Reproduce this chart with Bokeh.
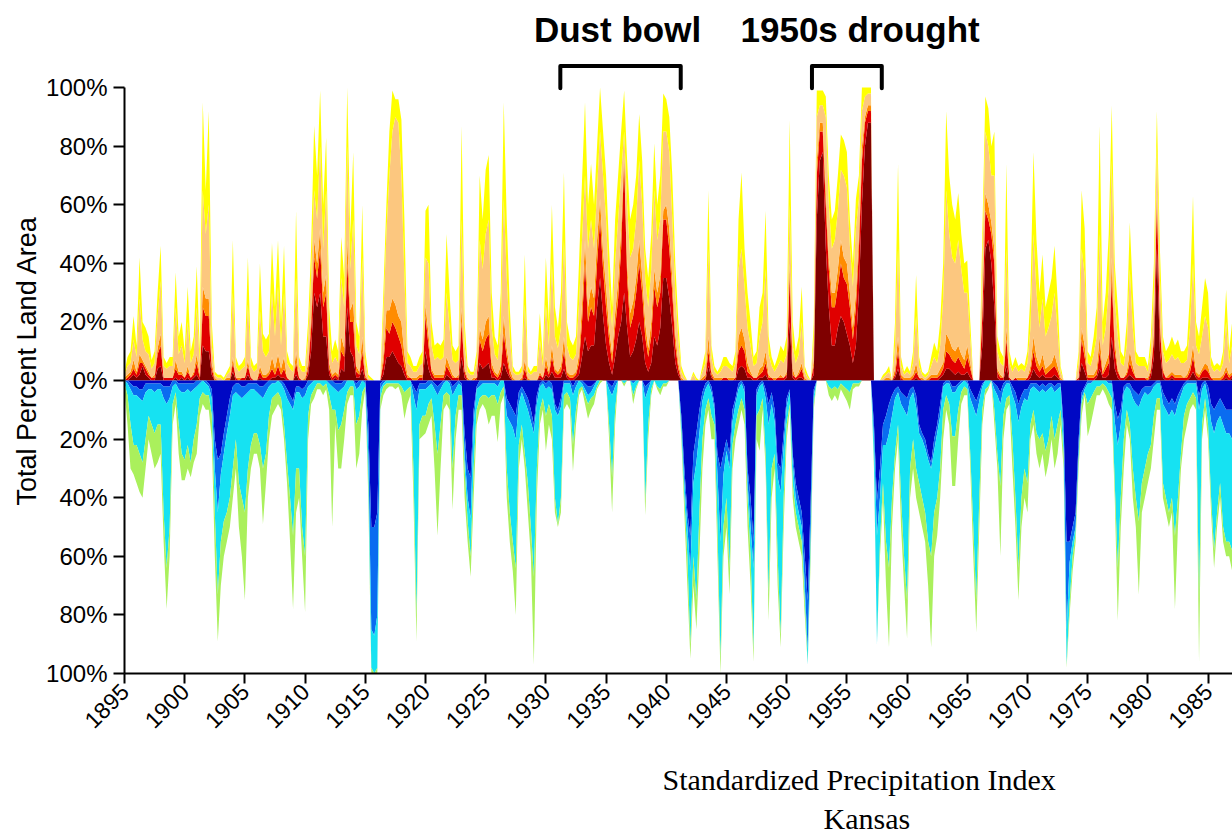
import math
import numpy as np
from bokeh.plotting import figure
from bokeh.models import FixedTicker, CustomJSTickFormatter, Title, Range1d
from bokeh.core.properties import value
from bokeh.embed import file_html
from bokeh.resources import INLINE

START_YEAR = 1895
SAMPLES_PER_YEAR = 4  # quarterly readings

# ---- Dry side: cumulative upper edges (% land area) of each class, quarterly ----
dry_total = [  # top of yellow
    3,8,10,22, 12,42,20,18, 15,7,10,30, 46,8,6,8, 8,37,15,20,
    10,32,10,15, 39,10,95,65, 92,20,3,2, 2,1,3,5, 48,8,5,6,
    8,42,8,5, 6,40,16,14, 16,47,25,48, 20,46,10,6, 5,58,8,5,
    5,20,45,87, 70,99,60,83, 25,10,14,10, 49,35,100,50, 78,20,15,60,
    10,2,1,0, 0,0,30,60, 85,99,96,96, 89,55,10,8, 5,5,8,10,
    58,60,20,12, 13,12,14,50, 30,12,10,12, 87,20,5,3, 3,10,70,55,
    72,77,30,15, 12,30,95,55, 25,5,3,3, 5,43,5,3, 5,5,23,8,
    42,20,60,25, 18,30,71,20, 14,12,15,40, 68,95,60,74, 60,80,100,85,
    70,45,25,55, 70,85,99,75, 55,60,70,91, 75,45,35,50, 81,60,70,98,
    96,90,70,40, 20,5,2,0, 0,3,1,0, 5,10,65,12, 5,3,5,8,
    8,6,5,10, 55,71,45,30, 20,8,10,25, 30,58,15,8, 5,8,12,10,
    15,89,20,10, 15,32,5,2, 0,20,99,99, 99,97,70,55, 58,70,84,82,
    78,55,40,62, 70,100,100,100, 100,0,0,0, 2,3,5,0, 20,74,8,3,
    5,3,10,36, 8,3,2,3, 8,13,10,20, 40,92,70,60, 55,64,50,40,
    41,20,0,0, 0,50,97,93, 80,85,15,10, 8,74,10,5, 8,5,6,5,
    10,30,78,48, 30,43,25,30, 35,46,28,5, 0,0,0,0, 0,10,65,52,
    10,8,15,25, 87,20,30,50, 94,40,25,10, 8,20,54,30, 10,8,8,8,
    5,15,40,92, 45,15,10,12, 15,12,14,10, 10,12,30,63, 20,15,25,35,
    30,8,5,6, 5,10,31,10, 20,10,
]
dry_peach = [  # top of light orange
    2,5,6,14, 8,28,14,10, 9,4,6,22, 34,5,4,5, 5,25,9,12,
    6,20,6,9, 25,6,65,50, 60,12,2,1, 1,0,2,3, 30,5,3,4,
    5,26,5,3, 4,24,10,8, 10,30,15,32, 12,30,6,4, 3,35,5,3,
    3,14,35,65, 55,80,45,65, 15,6,8,6, 35,25,80,38, 55,12,9,42,
    6,1,0,0, 0,0,22,50, 70,85,90,88, 70,35,6,5, 3,3,5,6,
    42,40,12,7, 8,7,8,30, 18,7,6,7, 55,12,3,2, 2,6,48,38,
    50,55,18,9, 7,18,62,35, 15,3,2,2, 3,26,3,2, 3,3,14,5,
    26,12,40,15, 11,18,48,12, 8,7,9,26, 48,70,45,55, 45,65,85,70,
    55,32,18,40, 55,70,85,60, 42,45,55,75, 60,35,25,38, 65,48,55,85,
    85,78,55,30, 14,3,1,0, 0,2,0,0, 3,6,45,8, 3,2,3,5,
    5,4,3,6, 38,45,32,18, 12,5,6,15, 20,38,9,5, 3,5,7,6,
    9,60,12,6, 9,20,3,1, 0,14,90,94, 94,90,60,45, 48,58,72,70,
    66,46,32,52, 62,92,97,98, 98,0,0,0, 1,2,3,0, 12,45,5,2,
    3,2,6,22, 5,2,1,2, 5,8,6,12, 28,65,50,42, 40,48,38,30,
    30,14,0,0, 0,40,85,80, 70,70,10,6, 5,45,6,3, 5,3,4,3,
    6,18,50,30, 18,28,15,18, 22,30,17,3, 0,0,0,0, 0,6,45,36,
    6,5,9,15, 50,12,18,32, 75,28,15,6, 5,12,38,18, 6,5,5,5,
    3,10,30,80, 35,10,6,7, 9,7,8,6, 6,7,18,40, 12,9,15,22,
    18,5,3,4, 3,6,20,6, 12,6,
]
dry_orange = [  # top of orange
    1,2,3,7, 3,9,7,5, 3,1,2,11, 16,1,1,1, 1,7,3,3,
    1,5,1,3, 9,2,32,28, 28,6,1,0, 0,0,1,1, 8,1,1,1,
    1,7,1,0, 0,5,2,2, 3,8,4,9, 4,8,1,0, 0,10,1,0,
    1,6,22,48, 40,52,30,36, 6,2,3,2, 15,11,48,24, 27,5,3,15,
    2,0,0,0, 0,0,9,24, 24,28,26,22, 20,9,2,1, 1,1,2,2,
    26,16,4,2, 2,2,2,8, 5,2,1,2, 25,4,1,0, 1,1,18,14,
    20,22,6,3, 2,5,22,11, 4,1,0,0, 1,7,1,0, 0,0,3,1,
    8,3,12,4, 3,5,15,3, 2,2,3,9, 26,48,25,32, 28,48,62,44,
    32,18,9,23, 34,52,78,40, 23,27,35,48, 36,20,11,20, 38,30,36,58,
    60,52,35,16, 6,1,0,0, 0,0,0,0, 1,2,15,3, 1,1,1,1,
    1,1,1,1, 15,18,14,6, 3,1,1,4, 5,10,2,1, 1,1,2,1,
    3,40,4,1, 3,6,1,0, 0,7,75,88, 88,65,42,30, 30,38,48,42,
    40,30,18,30, 50,80,90,94, 94,0,0,0, 0,1,1,0, 4,15,2,1,
    1,1,2,6, 1,1,0,1, 2,2,2,4, 6,16,14,11, 10,12,9,7,
    12,6,0,0, 0,26,64,60, 54,45,4,2, 1,18,1,0, 1,1,1,1,
    1,5,15,8, 5,9,4,5, 6,9,5,1, 0,0,0,0, 0,1,18,12,
    2,2,2,4, 15,3,6,9, 42,14,4,1, 1,3,10,5, 1,1,1,1,
    1,4,17,66, 21,4,1,2, 3,2,2,2, 1,2,5,12, 3,2,4,6,
    5,1,1,1, 1,2,5,2, 3,2,
]
dry_red = [  # top of red
    0,1,2,4, 2,6,6,4, 2,1,1,9, 12,1,1,1, 1,4,2,2,
    1,3,1,2, 6,1,25,22, 22,4,0,0, 0,0,0,0, 6,1,0,1,
    1,5,1,0, 0,3,1,1, 2,4,2,5, 2,4,1,0, 0,6,1,0,
    0,4,18,42, 35,45,25,30, 4,1,2,1, 10,8,40,20, 20,3,2,10,
    1,0,0,0, 0,0,6,18, 16,20,18,15, 12,5,1,1, 0,0,1,1,
    22,12,3,1, 1,1,1,5, 3,1,1,1, 20,3,0,0, 0,1,14,10,
    14,16,4,2, 1,3,16,8, 2,0,0,0, 0,4,0,0, 0,0,2,1,
    5,2,8,3, 2,3,10,2, 1,1,2,6, 20,40,20,25, 22,40,55,38,
    25,14,6,18, 28,45,75,35, 18,22,30,40, 30,15,8,15, 32,25,30,55,
    55,45,30,12, 4,0,0,0, 0,0,0,0, 0,1,10,2, 0,0,0,1,
    1,0,0,1, 10,12,10,3, 2,1,1,2, 3,6,1,1, 0,1,1,1,
    2,36,2,1, 2,4,0,0, 0,5,70,85, 85,60,38,25, 25,32,40,35,
    33,25,14,25, 45,75,88,92, 92,0,0,0, 0,0,0,0, 2,10,1,0,
    0,0,1,3, 1,0,0,0, 1,1,1,2, 4,10,9,7, 6,8,6,4,
    8,4,0,0, 0,22,58,55, 50,40,3,1, 1,14,1,0, 1,0,0,0,
    1,3,10,5, 3,5,2,3, 4,5,3,0, 0,0,0,0, 0,1,14,8,
    1,1,1,2, 10,2,4,6, 35,10,3,1, 1,2,6,3, 1,1,1,1,
    0,3,14,62, 18,3,1,1, 2,1,1,1, 1,1,3,8, 2,1,3,4,
    3,1,0,0, 0,1,3,1, 2,1,
]
dry_darkred = [  # top of dark red
    0,0,1,2, 1,2,5,2, 1,0,0,4, 5,0,0,0, 0,1,0,1,
    0,1,0,1, 2,0,12,10, 10,2,0,0, 0,0,0,0, 3,0,0,0,
    0,2,0,0, 0,1,0,0, 0,1,1,2, 1,1,0,0, 0,2,0,0,
    0,2,10,30, 25,30,15,15, 2,0,1,0, 4,3,25,10, 8,1,1,4,
    0,0,0,0, 0,0,2,8, 8,10,8,6, 5,2,0,0, 0,0,0,0,
    10,4,1,0, 0,0,0,2, 1,0,0,0, 8,1,0,0, 0,0,6,4,
    5,6,1,1, 0,1,6,3, 1,0,0,0, 0,1,0,0, 0,0,1,0,
    2,1,3,1, 1,1,4,1, 0,0,1,2, 8,15,10,12, 12,25,35,22,
    12,6,2,8, 15,20,30,18, 8,10,14,20, 15,6,3,6, 15,12,18,35,
    35,28,18,6, 2,0,0,0, 0,0,0,0, 0,0,5,1, 0,0,0,0,
    0,0,0,0, 4,5,4,1, 1,0,0,1, 1,2,0,0, 0,0,0,0,
    1,20,1,0, 1,1,0,0, 0,2,55,75, 78,45,25,12, 12,18,22,20,
    16,12,6,12, 30,60,80,88, 88,0,0,0, 0,0,0,0, 1,4,0,0,
    0,0,0,1, 0,0,0,0, 0,0,0,1, 2,4,4,3, 2,3,2,2,
    3,1,0,0, 0,12,45,48, 40,25,1,0, 0,5,0,0, 0,0,0,0,
    0,1,4,2, 1,2,1,1, 1,2,1,0, 0,0,0,0, 0,0,6,3,
    0,0,0,1, 4,1,1,2, 15,4,1,0, 0,1,2,1, 0,0,0,0,
    0,1,8,45, 10,1,0,0, 1,0,0,0, 0,0,1,3, 1,0,1,1,
    1,0,0,0, 0,0,1,0, 1,0,
]

# ---- Wet side: cumulative depths (% land area) below 0, quarterly ----
wet_total = [  # bottom of light green
    3,15,30,32, 35,38,40,30, 20,25,30,28, 25,55,78,60, 15,8,25,34,
    34,30,33,28, 25,12,8,10, 10,20,60,89, 70,60,55,50, 40,30,50,60,
    75,40,30,25, 25,30,49,35, 20,12,10,8, 10,20,35,55, 78,45,40,60,
    79,20,8,6, 3,3,5,3, 10,50,15,30, 30,20,8,5, 5,30,25,10,
    3,40,100,100, 100,10,5,3, 2,2,3,2, 5,13,8,5, 40,89,20,19,
    18,15,12,30, 53,30,10,8, 10,44,20,10, 10,40,55,67, 40,15,10,8,
    10,15,12,12, 21,8,5,40, 55,65,80,30, 20,30,45,60, 97,40,15,10,
    24,15,20,45, 50,45,10,8, 10,31,15,5, 3,8,13,10, 8,3,1,0,
    0,20,45,15, 0,0,2,0, 0,8,3,0, 0,46,20,5, 0,3,5,2,
    2,0,0,0, 0,20,45,70, 95,70,85,60, 30,15,10,20, 20,60,100,60,
    50,73,30,20, 15,10,15,50, 70,96,20,24, 10,30,82,40, 30,70,91,50,
    20,10,40,50, 55,60,80,97, 60,10,0,0, 0,0,5,7, 5,7,3,5,
    7,10,3,2, 2,0,0,0, 0,30,90,60, 40,70,91,50, 30,20,50,70,
    88,40,30,40, 45,50,55,70, 91,60,53,40, 20,10,15,36, 36,20,8,5,
    5,30,60,86, 50,15,5,3, 0,15,30,60, 20,10,8,30, 50,75,50,40,
    45,20,15,25, 30,25,33,28, 20,30,25,15, 30,98,80,65, 55,30,12,5,
    19,15,10,5, 5,3,5,8, 10,40,82,50, 30,15,20,40, 50,73,45,40,
    35,30,20,10, 10,40,45,50, 45,78,50,30, 20,15,10,8, 10,96,20,10,
    20,45,64,50, 40,55,60,60, 65,60,
]
wet_cyan = [  # bottom of cyan
    1,5,15,22, 22,25,28,20, 12,15,18,15, 15,45,64,50, 8,4,15,25,
    27,22,28,20, 15,6,4,5, 5,12,45,73, 55,48,45,40, 30,20,35,40,
    45,30,22,18, 18,22,30,25, 12,6,5,4, 6,15,28,40, 53,30,30,50,
    60,12,5,3, 1,1,2,1, 5,10,10,17, 15,10,4,2, 2,15,12,4,
    2,35,98,100, 98,6,2,1, 1,1,1,1, 2,4,3,2, 30,80,15,12,
    12,8,6,15, 25,15,5,4, 5,30,12,5, 5,30,48,60, 30,10,6,5,
    5,6,5,5, 8,4,2,30, 45,55,64,22, 15,25,35,50, 67,30,10,6,
    12,8,12,40, 49,40,5,4, 6,22,10,3, 2,5,8,6, 5,2,0,0,
    0,15,33,10, 0,0,1,0, 0,5,2,0, 0,41,15,3, 0,2,3,1,
    1,0,0,0, 0,18,40,60, 90,60,75,45, 20,10,6,12, 15,50,95,50,
    40,64,22,15, 10,6,10,40, 60,92,12,10, 6,25,73,30, 25,60,87,40,
    15,8,35,45, 50,55,75,97, 55,8,0,0, 0,0,2,3, 2,3,1,2,
    3,4,1,1, 1,0,0,0, 0,28,90,55, 35,55,64,40, 25,15,40,60,
    75,30,20,30, 35,40,45,55, 60,45,40,30, 10,5,8,19, 19,10,4,2,
    3,25,50,75, 40,10,3,2, 0,10,25,36, 12,6,5,20, 40,64,40,30,
    35,15,10,18, 20,18,24,20, 12,20,15,10, 25,97,76,60, 52,27,8,4,
    8,6,4,2, 2,1,2,4, 6,35,64,40, 20,10,15,30, 40,48,35,30,
    25,22,12,6, 6,35,40,45, 40,53,40,25, 12,8,6,4, 6,75,15,6,
    15,40,58,45, 35,50,55,55, 58,55,
]
wet_blue = [  # bottom of medium blue
    0,1,3,5, 5,6,7,4, 3,3,4,3, 3,6,8,6, 2,1,3,4,
    4,3,4,3, 2,1,0,1, 2,6,30,45, 32,25,18,12, 5,4,5,6,
    5,4,3,3, 4,5,6,4, 2,1,1,0, 1,3,6,8, 10,4,4,6,
    5,2,1,0, 0,0,0,0, 1,2,3,4, 3,2,0,0, 0,3,2,0,
    1,25,85,87, 80,3,1,0, 0,0,0,0, 0,0,0,0, 5,10,3,3,
    3,2,1,3, 5,3,1,0, 1,5,3,1, 2,25,40,47, 15,3,2,1,
    1,1,1,1, 2,0,0,12, 14,16,20,8, 4,7,10,14, 18,8,2,1,
    3,2,3,10, 12,9,1,1, 1,5,2,0, 1,3,5,4, 2,0,0,0,
    0,3,5,2, 0,0,0,0, 0,1,0,0, 0,6,3,0, 0,0,0,0,
    0,0,0,0, 0,15,35,50, 65,35,28,18, 7,3,1,4, 10,32,55,32,
    24,30,14,8, 3,1,4,35, 50,64,5,2, 1,6,15,8, 14,33,38,23,
    9,4,28,40, 45,50,70,92, 50,5,0,0, 0,0,0,0, 0,0,0,0,
    0,0,0,0, 0,0,0,0, 0,20,53,40, 22,22,18,12, 6,4,8,10,
    12,6,4,9, 18,20,23,27, 30,24,18,12, 2,1,1,4, 4,2,1,0,
    1,6,9,12, 7,2,0,0, 0,3,5,8, 3,1,1,5, 8,14,9,6,
    7,3,2,3, 4,3,4,3, 2,4,3,2, 20,85,62,55, 50,25,6,3,
    1,1,0,0, 0,0,0,1, 1,14,22,15, 4,2,3,6, 8,9,6,4,
    5,4,2,1, 1,8,10,12, 10,12,8,5, 2,1,1,1, 1,10,3,1,
    6,14,18,14, 12,15,18,18, 20,18,
]
wet_darkblue = [  # bottom of dark blue
    0,0,1,2, 2,3,3,1, 1,1,1,1, 1,2,2,2, 0,0,1,1,
    1,1,1,1, 0,0,0,0, 1,3,20,27, 25,18,12,6, 2,1,1,2,
    2,1,1,1, 1,2,2,1, 0,0,0,0, 0,1,3,5, 7,2,2,3,
    2,0,0,0, 0,0,0,0, 0,0,1,1, 1,0,0,0, 0,1,0,0,
    0,15,50,50, 45,1,0,0, 0,0,0,0, 0,0,0,0, 2,4,1,1,
    1,0,0,1, 2,1,0,0, 0,2,1,0, 1,18,30,33, 10,2,0,0,
    0,0,0,0, 0,0,0,6, 8,10,12,4, 2,4,6,10, 15,5,1,0,
    1,0,1,8, 10,6,0,0, 0,2,0,0, 0,1,2,2, 1,0,0,0,
    0,1,2,0, 0,0,0,0, 0,0,0,0, 0,2,1,0, 0,0,0,0,
    0,0,0,0, 0,12,30,45, 53,25,18,10, 4,1,0,2, 8,25,30,25,
    20,25,10,6, 1,0,2,30, 40,55,3,1, 0,3,8,4, 10,28,30,18,
    6,3,25,35, 40,45,60,75, 40,3,0,0, 0,0,0,0, 0,0,0,0,
    0,0,0,0, 0,0,0,0, 0,15,41,30, 15,12,8,5, 3,2,4,5,
    6,3,2,5, 15,18,20,25, 28,20,15,8, 1,0,0,2, 2,1,0,0,
    0,3,5,7, 4,1,0,0, 0,1,2,4, 1,0,0,2, 4,8,5,3,
    3,1,1,1, 2,1,2,1, 1,2,1,1, 15,55,55,50, 45,20,4,2,
    0,0,0,0, 0,0,0,0, 0,8,13,10, 2,1,1,3, 4,5,3,2,
    2,2,1,0, 0,4,6,8, 6,8,5,3, 1,0,0,0, 0,5,1,0,
    2,8,10,8, 6,8,10,10, 10,8,
]

x_ticks = list(range(1895, 1990, 5))
y_ticks = [-100, -80, -60, -40, -20, 0, 20, 40, 60, 80, 100]
annotations = ["Dust bowl", "1950s drought"]
annotation_x = [1935.95, 1956.1]
period_start = [1931.2, 1952.1]
period_end = [1941.2, 1957.9]

dry_colors = ["#7f0000", "#e00000", "#ff8c00", "#fcc77f", "#ffff00"]
wet_colors = ["#0008c4", "#0a6cf0", "#16e2f2", "#aaf05c"]

series = [dry_total, dry_peach, dry_orange, dry_red, dry_darkred,
          wet_total, wet_cyan, wet_blue, wet_darkblue]
n = min(len(s) for s in series)
x = START_YEAR + np.arange(n) / SAMPLES_PER_YEAR
arr = lambda s: np.array(s[:n], dtype=float)

p = figure(width=1232, height=838, output_backend="svg", toolbar_location=None,
           x_range=Range1d(1895, 1987.03), y_range=Range1d(-100, 129.74),
           min_border_left=124, min_border_right=0, min_border_top=0,
           min_border_bottom=162, background_fill_color="white")
p.outline_line_color = None
p.grid.visible = False

# dry stack (bottom to top)
dry_edges = [np.zeros(n), arr(dry_darkred), arr(dry_red), arr(dry_orange),
             arr(dry_peach), arr(dry_total)]
for i, c in enumerate(dry_colors):
    p.varea(x=x, y1=dry_edges[i], y2=dry_edges[i + 1], fill_color=c)

# wet stack (from 0 downward)
wet_edges = [np.zeros(n), -arr(wet_darkblue), -arr(wet_blue), -arr(wet_cyan),
             -arr(wet_total)]
for i, c in enumerate(wet_colors):
    p.varea(x=x, y1=wet_edges[i], y2=wet_edges[i + 1], fill_color=c)

# brackets and headings
for a, b in zip(period_start, period_end):
    p.line(x=[a, a, b, b], y=[99.8, 107.4, 107.4, 99.8], line_color="black",
           line_width=4, line_join="round", line_cap="round")
p.text(x=annotation_x, y=[119.9, 119.9], text=annotations,
       text_font=value("Liberation Sans"), text_font_style="bold",
       text_font_size="35px", text_align="center", text_baseline="middle",
       text_color="black")

# axes
xa = p.xaxis[0]
xa.ticker = FixedTicker(ticks=x_ticks)
xa.formatter = CustomJSTickFormatter(code="return tick.toFixed(0);")
xa.major_label_orientation = math.pi / 4
xa.major_label_text_font = "Liberation Sans"
xa.major_label_text_font_size = "23px"
xa.major_label_text_color = "black"
xa.major_tick_out = 10
xa.major_tick_in = 0
xa.minor_tick_out = 0
xa.minor_tick_in = 0
xa.major_label_standoff = 4
xa.axis_line_width = 2
xa.major_tick_line_width = 2
xa.axis_line_color = "black"

ya = p.yaxis[0]
ya.ticker = FixedTicker(ticks=y_ticks)
ya.formatter = CustomJSTickFormatter(code="return Math.abs(tick).toFixed(0) + '%';")
ya.bounds = (-100, 100)
ya.major_label_text_font = "Liberation Sans"
ya.major_label_text_font_size = "24px"
ya.major_label_text_color = "black"
ya.major_tick_out = 11
ya.major_tick_in = 0
ya.minor_tick_out = 0
ya.minor_tick_in = 0
ya.major_label_standoff = 6
ya.axis_line_width = 2
ya.major_tick_line_width = 2
ya.axis_line_color = "black"

ylab = Title(text="Total Percent Land Area", align="left", offset=168,
             text_font="Liberation Sans", text_font_style="normal",
             text_font_size="27px", text_color="black", standoff=4)
p.add_layout(ylab, "left")

spacer = Title(text=" ", text_font_size="10px", standoff=9)
t1 = Title(text="Standardized Precipitation Index", align="left", offset=538,
           text_font="Liberation Serif", text_font_style="normal",
           text_font_size="30px", text_color="black", standoff=0)
t2 = Title(text="Kansas", align="left", offset=699,
           text_font="Liberation Serif", text_font_style="normal",
           text_font_size="30px", text_color="black", standoff=8)
p.add_layout(spacer, "below")
p.add_layout(t1, "below")
p.add_layout(t2, "below")

open("out.html", "w").write(file_html(p, INLINE))
